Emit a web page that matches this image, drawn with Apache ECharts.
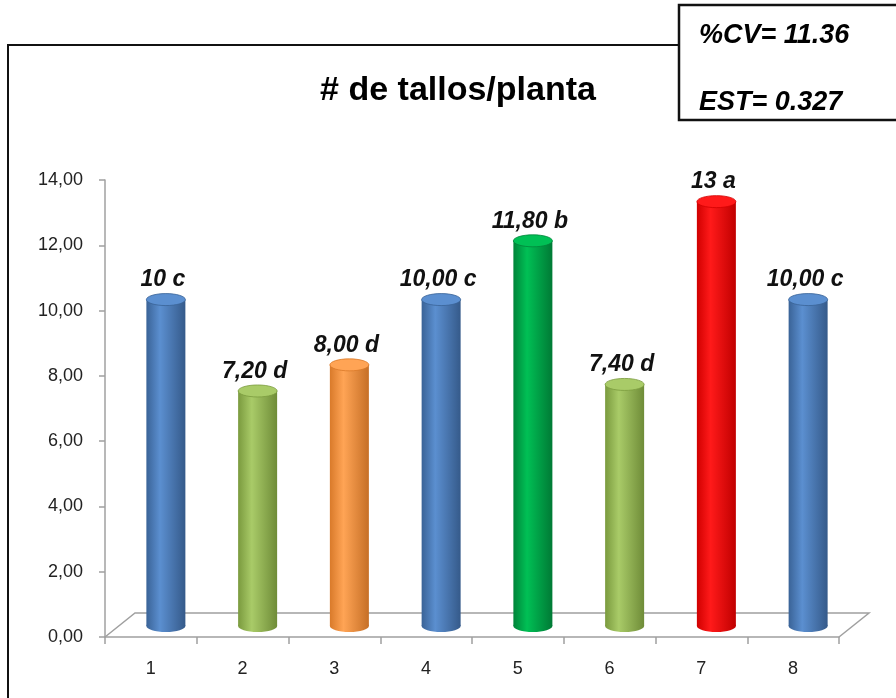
<!DOCTYPE html>
<html><head><meta charset="utf-8">
<script src="https://cdn.jsdelivr.net/npm/echarts@6/dist/echarts.min.js"></script>
<style>html,body{margin:0;padding:0;background:#fff}#c{width:896px;height:698px}</style>
</head><body><div id="c"></div>
<script>
const categories = ['1','2','3','4','5','6','7','8'];
const values = [10, 7.2, 8, 10, 11.8, 7.4, 13, 10];
const labels = ['10 c','7,20 d','8,00 d','10,00 c','11,80 b','7,40 d','13 a','10,00 c'];
const barColors = [
  ['#3a6397','#5b8fd0','#355a8a'],
  ['#7a9a3e','#a9cb68','#6f8c38'],
  ['#d97a2a','#ffa455','#c66f26'],
  ['#3a6397','#5b8fd0','#355a8a'],
  ['#00843a','#00c055','#007a35'],
  ['#7a9a3e','#a9cb68','#6f8c38'],
  ['#d00000','#ff1a1a','#c00000'],
  ['#3a6397','#5b8fd0','#355a8a']
];
const yTicks = {min: 0, max: 14, interval: 2};
const infoLines = ['%CV= 11.36', 'EST= 0.327'];
const titleText = '# de tallos/planta';

function grad(c){
  return new echarts.graphic.LinearGradient(0,0,1,0,[
    {offset:0,color:c[0]},{offset:0.35,color:c[1]},{offset:1,color:c[2]}]);
}

const chart = echarts.init(document.getElementById('c'), null, {renderer:'canvas'});
const DX = 15, DY = 11, W = 39, RY = 6;
chart.setOption({
  animation:false,
  backgroundColor:'#fff',
  grid:{left:105,right:57,top:180,bottom:61},
  xAxis:{type:'category',data:categories,
    axisLine:{lineStyle:{color:'#a0a0a0',width:1.5}},
    axisTick:{show:true,length:7,lineStyle:{color:'#a0a0a0',width:1.5}},
    axisLabel:{color:'#222',fontFamily:'Liberation Sans',fontSize:18,margin:23}},
  yAxis:{type:'value',min:yTicks.min,max:yTicks.max,interval:yTicks.interval,
    axisLine:{show:true,lineStyle:{color:'#a0a0a0',width:1.5}},
    axisTick:{show:true,length:6,lineStyle:{color:'#a0a0a0',width:1.5}},
    splitLine:{show:false},
    axisLabel:{color:'#222',fontFamily:'Liberation Sans',fontSize:18,margin:22,
      formatter:v=>v.toFixed(2).replace('.',',')}},
  graphic:[
    {type:'rect',z:-10,shape:{x:8,y:45,width:900,height:700},style:{fill:'#fff',stroke:'#111',lineWidth:2}},
    {type:'polyline',z:1,shape:{points:[[105,637],[135,613],[869,613],[839,637]]},style:{fill:null,stroke:'#a0a0a0',lineWidth:1.5}},
    {type:'text',z:5,style:{text:titleText,x:458,y:91,align:'center',verticalAlign:'middle',
      font:'bold 34px "Liberation Sans"',fill:'#000'}},
    {type:'rect',z:20,shape:{x:679,y:5,width:230,height:115},style:{fill:'#fff',stroke:'#111',lineWidth:2.5}},
    {type:'text',z:21,style:{text:infoLines[0],x:699,y:36,verticalAlign:'middle',font:'italic bold 27px "Liberation Sans"',fill:'#000'}},
    {type:'text',z:21,style:{text:infoLines[1],x:699,y:103,verticalAlign:'middle',font:'italic bold 27px "Liberation Sans"',fill:'#000'}}
  ],
  series:[{
    type:'custom',
    data:values.map((v,i)=>[i,v]),
    renderItem:function(params, api){
      const i = api.value(0), v = api.value(1);
      const p0 = api.coord([i,0]), p1 = api.coord([i,v]);
      const cx = p0[0]+DX, yb = p0[1]-DY, yt = p1[1]-DY;
      const c = barColors[i];
      return {type:'group',children:[
        {type:'ellipse',shape:{cx:cx,cy:yb,rx:W/2,ry:RY},style:{fill:grad(c)}},
        {type:'rect',shape:{x:cx-W/2,y:yt,width:W,height:yb-yt},style:{fill:grad(c)}},
        {type:'ellipse',shape:{cx:cx,cy:yt,rx:W/2,ry:RY},style:{fill:c[1],stroke:c[0],lineWidth:0.8}},
        {type:'text',style:{text:labels[i],x:cx-3,y:yt-RY-2,align:'center',verticalAlign:'bottom',
          font:'italic bold 23px "Liberation Sans"',fill:'#111'}}
      ]};
    }
  }]
});
</script></body></html>
